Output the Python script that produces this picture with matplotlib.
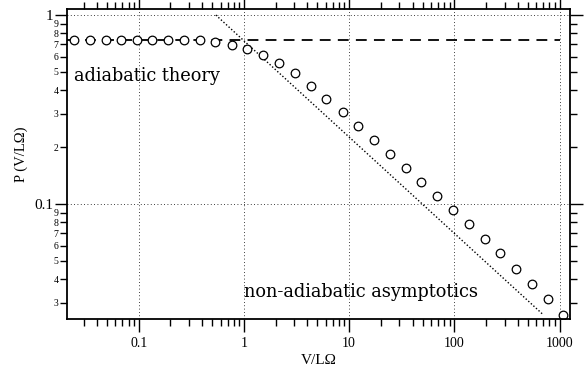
import numpy as np
import matplotlib.pyplot as plt
from matplotlib.ticker import LogLocator, FuncFormatter, NullFormatter

plt.rcParams['font.family'] = ['Liberation Serif', 'DejaVu Serif']

# 数据点
x_data = [0.0243, 0.0344, 0.0485, 0.0683, 0.0957, 0.1345, 0.191, 0.269,
          0.382, 0.530, 0.764, 1.08, 1.525, 2.16, 3.07, 4.30, 6.05, 8.67,
          12.2, 17.2, 24.4, 34.4, 48.1, 68.7, 97.4, 136.4, 193.6, 272.5,
          384, 545, 773, 1081]
p_data = [0.737, 0.737, 0.737, 0.737, 0.737, 0.737, 0.737, 0.737,
          0.737, 0.722, 0.694, 0.661, 0.616, 0.559, 0.494, 0.423, 0.359, 0.306,
          0.260, 0.218, 0.184, 0.155, 0.130, 0.1106, 0.0929, 0.0783, 0.0653, 0.0548,
          0.0455, 0.0379, 0.0313, 0.0259]

# 绝热理论 (水平虚线)
adiabatic_x = [0.0208, 1000]
adiabatic_y = [0.736, 0.736]

# 非绝热渐近线 (点线)
asym_x = [0.54, 700]
asym_y = [1.0, 0.0259]

fig = plt.figure(figsize=(5.85, 3.69), dpi=100)
ax = fig.add_axes([0.1145, 0.1355, 0.8595, 0.8401])

ax.plot(adiabatic_x, adiabatic_y, color='black', lw=1.3, ls=(0, (6, 4)))
ax.plot(asym_x, asym_y, color='black', lw=1.0, ls=(0, (1, 1.5)))
ax.plot(x_data, p_data, 'o', mfc='white', mec='black', mew=0.9, ms=6.2)

ax.set_xscale('log')
ax.set_yscale('log')
ax.set_xlim(0.0208, 1250)
ax.set_ylim(0.0246, 1.076)

# 网格: 只在主刻度
for gx in [0.1, 1, 10, 100, 1000]:
    ax.axvline(gx, color='black', lw=0.6, ls=(0, (1, 3)), zorder=0)
for gy in [0.1, 1]:
    ax.axhline(gy, color='black', lw=0.6, ls=(0, (1, 3)), zorder=0)

# 刻度
ax.xaxis.set_major_locator(LogLocator(base=10))
ax.xaxis.set_minor_locator(LogLocator(base=10, subs=np.arange(2, 10)))
ax.xaxis.set_major_formatter(FuncFormatter(lambda v, p: f'{v:g}'))
ax.xaxis.set_minor_formatter(NullFormatter())

ax.yaxis.set_major_locator(LogLocator(base=10))
ax.yaxis.set_minor_locator(LogLocator(base=10, subs=np.arange(2, 10)))
ax.yaxis.set_major_formatter(FuncFormatter(lambda v, p: f'{v:g}'))


def minor_fmt(v, p):
    m = v / 10 ** np.floor(np.log10(v) + 1e-9)
    return f'{int(round(m))}'


ax.yaxis.set_minor_formatter(FuncFormatter(minor_fmt))

ax.tick_params(which='both', direction='out', top=True, right=True, color='black', width=1.0)
ax.tick_params(which='major', length=9, labelsize=11, pad=1)
ax.tick_params(which='minor', length=5, width=1.0, pad=1)
ax.tick_params(axis='y', which='minor', labelsize=7)
ax.tick_params(axis='x', which='major', pad=4, labelsize=10)

for s in ax.spines.values():
    s.set_linewidth(1.3)

ax.set_xlabel('V/LΩ', fontsize=11, labelpad=3)
ax.set_ylabel('P (V/LΩ)', fontsize=10.5)
ax.yaxis.set_label_coords(-0.078, 0.53)

ax.text(0.0243, 0.45, 'adiabatic theory', fontsize=12.8, va='baseline',
        family='DejaVu Serif')
ax.text(1.0, 0.0322, 'non-adiabatic asymptotics', fontsize=12.8, va='baseline',
        family='DejaVu Serif')

fig.savefig('out.png', dpi=100)
